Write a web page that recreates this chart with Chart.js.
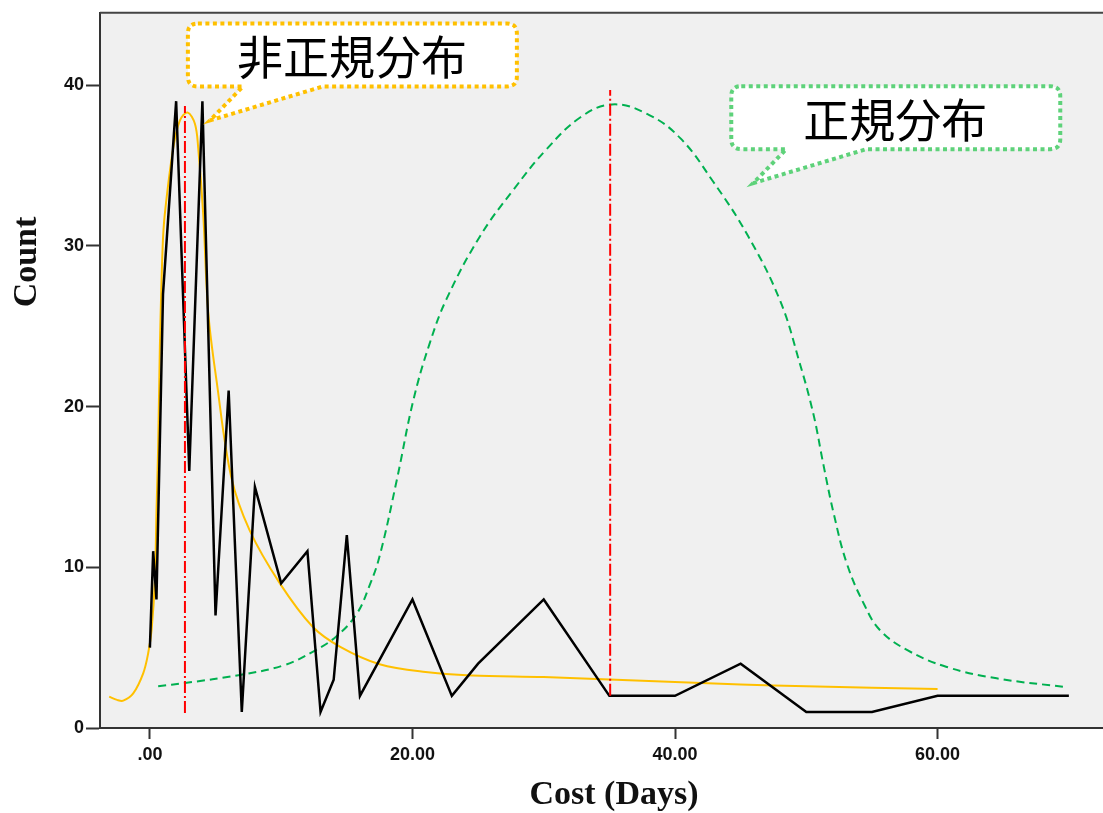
<!DOCTYPE html>
<html>
<head>
<meta charset="utf-8">
<script src="https://cdn.jsdelivr.net/npm/chart.js@4.4.1/dist/chart.umd.min.js"></script>
<style>
	html, body { margin: 0; padding: 0; background: #fff; }
	#wrap { width: 1103px; height: 813px; position: relative; }
</style>
</head>
<body>
<div id="wrap"><canvas id="costChart"></canvas></div>
<script>
// observed counts per cost (days)
const costDays = [0, 0.25, 0.5, 1, 2, 3, 4, 5, 6, 7, 8, 10, 12, 13, 14, 15, 16, 20, 23, 25, 30, 35, 40, 45, 50, 55, 60, 70];
const counts = [5, 11, 8, 27, 39, 16, 39, 7, 21, 1, 15, 9, 11, 1, 3, 12, 2, 8, 2, 4, 8, 2, 2, 4, 1, 1, 2, 2];

// non-normal fitted curve
const fitX = [-3.1, -2.5, -2.03, -1.27, -0.51, -0.13, 0.13, 0.38, 0.5, 0.63, 0.76, 0.97, 1.14, 1.78, 2.29, 2.87, 3.43, 3.68, 4.06, 4.45, 5.08, 6.2, 7.6, 9.9, 12.4, 14.5, 17.5, 21, 24.5, 30, 35, 40, 45, 50, 60];
const fitY = [1.95, 1.75, 1.7, 2.15, 3.4, 4.65, 6.1, 9.2, 13.4, 17.5, 23.7, 29.9, 32, 36.1, 37.8, 38.3, 37.6, 36.1, 32, 25.8, 21.6, 15.6, 12.3, 9.0, 6.3, 5.05, 3.97, 3.48, 3.27, 3.17, 3.02, 2.86, 2.71, 2.59, 2.42];

// normal curve
const normX = [0.63, 2.67, 6.86, 10.2, 12.4, 14.2, 15.75, 16.7, 17.5, 18.8, 20.07, 21.3, 22.6, 25.15, 27.7, 30.2, 32.8, 35.2, 37.9, 40.4, 42.9, 45.5, 48.0, 49.5, 50.55, 51.3, 52.1, 53.1, 54.4, 55.6, 57.7, 60.7, 64.5, 69.9];
const normY = [2.6, 2.8, 3.3, 3.9, 4.74, 5.7, 7.1, 8.8, 10.7, 15.4, 20.4, 23.9, 26.7, 30.6, 33.5, 36.0, 38.0, 38.8, 38.2, 36.7, 34.0, 30.7, 26.6, 22.7, 19.5, 16.4, 13.3, 10.2, 7.7, 6.1, 4.84, 3.8, 3.09, 2.53];

// peak markers (dash-dot red)
const peakLeftX = [2.67, 2.67];
const peakLeftY = [0.93, 38.7];
const peakRightX = [35.06, 35.06];
const peakRightY = [2, 39.7];

const xTickValues = [0, 20, 40, 60];
const xTickLabels = ['.00', '20.00', '40.00', '60.00'];
const yTickValues = [0, 10, 20, 30, 40];
const yTickLabels = ['0', '10', '20', '30', '40'];

const calloutLabels = ['非正規分布', '正規分布'];

function toPoints(xs, ys) {
	return xs.map((x, i) => ({ x: x, y: ys[i] }));
}

// grey plot background, frame, titles and the speech bubbles
const decorPlugin = {
	id: 'decor',
	beforeDraw(chart) {
		const { ctx, chartArea } = chart;
		ctx.save();
		ctx.fillStyle = '#f0f0f0';
		ctx.fillRect(chartArea.left, chartArea.top, chartArea.right - chartArea.left, chartArea.bottom - chartArea.top);
		ctx.restore();
	},
	afterDraw(chart) {
		const { ctx, chartArea } = chart;
		const xs = chart.scales.x;
		const ys = chart.scales.y;
		ctx.save();
		ctx.strokeStyle = '#444';
		ctx.lineWidth = 2;
		ctx.beginPath();
		ctx.moveTo(chartArea.left, chartArea.top);
		ctx.lineTo(chartArea.right, chartArea.top);
		ctx.stroke();

		ctx.fillStyle = '#111';
		ctx.font = 'bold 34px "Liberation Serif", "Times New Roman", serif';
		ctx.textAlign = 'center';
		ctx.textBaseline = 'middle';
		ctx.fillText('Cost (Days)', 614, 795);
		ctx.translate(27, 262);
		ctx.rotate(-Math.PI / 2);
		ctx.fillText('Count', 0, 0);
		ctx.restore();

		drawCallout(ctx, xs.getPixelForValue(4.57), ys.getPixelForValue(37.8), '#ffc000', calloutLabels[0]);
		drawCallout(ctx, xs.getPixelForValue(45.96), ys.getPixelForValue(33.9), '#5ed27a', calloutLabels[1]);
	}
};

function drawCallout(ctx, tipX, tipY, color, text) {
	const l = tipX - 22, r = tipX + 307, t = tipY - 97, b = tipY - 34, rad = 10;
	const b1 = tipX + 33, b2 = tipX + 113;
	ctx.save();
	ctx.beginPath();
	ctx.moveTo(l + rad, t);
	ctx.lineTo(r - rad, t);
	ctx.quadraticCurveTo(r, t, r, t + rad);
	ctx.lineTo(r, b - rad);
	ctx.quadraticCurveTo(r, b, r - rad, b);
	ctx.lineTo(b2, b);
	ctx.lineTo(tipX, tipY);
	ctx.lineTo(b1, b);
	ctx.lineTo(l + rad, b);
	ctx.quadraticCurveTo(l, b, l, b - rad);
	ctx.lineTo(l, t + rad);
	ctx.quadraticCurveTo(l, t, l + rad, t);
	ctx.closePath();
	ctx.fillStyle = '#fff';
	ctx.fill();
	ctx.setLineDash([4, 3.5]);
	ctx.lineWidth = 4;
	ctx.strokeStyle = color;
	ctx.stroke();
	ctx.setLineDash([]);
	ctx.fillStyle = '#000';
	ctx.font = '46px "Noto Sans CJK JP", sans-serif';
	ctx.textAlign = 'center';
	ctx.textBaseline = 'middle';
	ctx.fillText(text, tipX + 142, tipY - 64);
	ctx.restore();
}

const tickFont = { family: '"Liberation Sans", Arial, sans-serif', size: 18, weight: 'bold' };

const chart = new Chart(document.getElementById('costChart').getContext('2d'), {
	type: 'scatter',
	data: {
		datasets: [
			{
				label: 'peak left',
				data: toPoints(peakLeftX, peakLeftY),
				showLine: true,
				borderColor: '#ff0000',
				borderWidth: 2,
				borderDash: [12, 3, 2, 3],
				pointRadius: 0,
				order: 0
			},
			{
				label: 'peak right',
				data: toPoints(peakRightX, peakRightY),
				showLine: true,
				borderColor: '#ff0000',
				borderWidth: 2,
				borderDash: [12, 3, 2, 3],
				pointRadius: 0,
				order: 0
			},
			{
				label: 'Count',
				data: toPoints(costDays, counts),
				showLine: true,
				borderColor: '#000',
				borderWidth: 2.5,
				pointRadius: 0,
				tension: 0,
				order: 1
			},
			{
				label: '非正規分布',
				data: toPoints(fitX, fitY),
				showLine: true,
				borderColor: '#ffc000',
				borderWidth: 2,
				pointRadius: 0,
				tension: 0.35,
				order: 2
			},
			{
				label: '正規分布',
				data: toPoints(normX, normY),
				showLine: true,
				borderColor: '#00b050',
				borderWidth: 2,
				borderDash: [8, 5],
				pointRadius: 0,
				tension: 0.4,
				order: 3
			}
		]
	},
	options: {
		responsive: true,
		maintainAspectRatio: false,
		animation: false,
		layout: { padding: { top: 11, left: 0, right: 0, bottom: 0 } },
		plugins: {
			legend: { display: false },
			tooltip: { enabled: false }
		},
		scales: {
			x: {
				type: 'linear',
				min: -3.8,
				max: 72.6,
				afterBuildTicks: (scale) => { scale.ticks = xTickValues.map(v => ({ value: v })); },
				afterFit: (scale) => { scale.height = 85; },
				grid: { drawOnChartArea: false, drawTicks: true, tickLength: 11, tickWidth: 2, tickColor: '#333' },
				border: { display: true, color: '#333', width: 2 },
				ticks: {
					font: tickFont,
					color: '#111',
					padding: 5,
					maxRotation: 0,
					callback: (value, index) => xTickLabels[index]
				}
			},
			y: {
				min: 0,
				max: 44.5,
				afterBuildTicks: (scale) => { scale.ticks = yTickValues.map(v => ({ value: v })); },
				afterFit: (scale) => { scale.width = 100; },
				grid: { drawOnChartArea: false, drawTicks: true, tickLength: 14, tickWidth: 2, tickColor: '#333' },
				border: { display: true, color: '#333', width: 2 },
				ticks: {
					font: tickFont,
					color: '#111',
					padding: 2,
					callback: (value, index) => yTickLabels[index]
				}
			}
		}
	},
	plugins: [decorPlugin]
});
</script>
</body>
</html>
